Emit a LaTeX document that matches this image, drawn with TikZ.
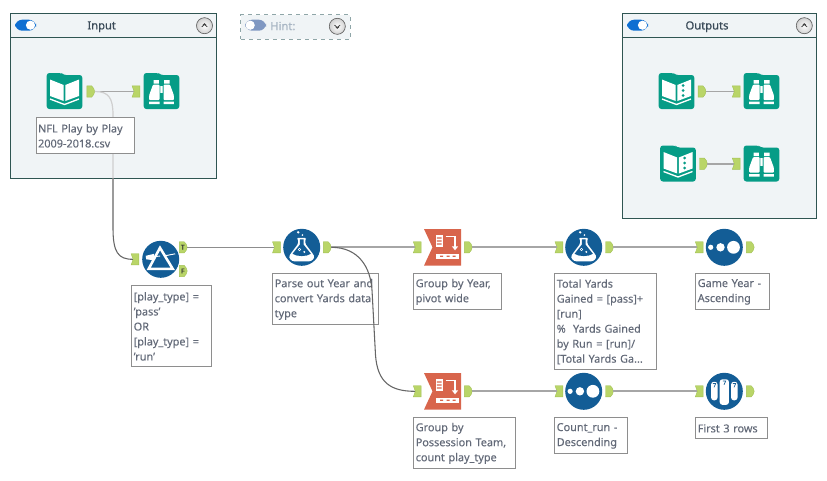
\documentclass[tikz,border=0pt]{standalone}
\usepackage{fontspec}
\setmainfont[FakeBold=0.15]{Noto Sans}
\newfontfamily\titlefont[FakeBold=0.7]{Noto Sans}
\definecolor{panelfill}{HTML}{F0F4F6}
\definecolor{paneledge}{HTML}{2F5552}
\definecolor{hintedge}{HTML}{8FA6A8}
\definecolor{toolteal}{HTML}{069C86}
\definecolor{toolblue}{HTML}{135D96}
\definecolor{toolred}{HTML}{D8654C}
\definecolor{portgreen}{HTML}{B9D568}
\definecolor{portedge}{HTML}{A3C255}
\definecolor{wirelight}{HTML}{A6A6A6}
\definecolor{wirefaint}{HTML}{CFCFCF}
\definecolor{wiredark}{HTML}{666666}
\definecolor{notetext}{HTML}{636A78}
\definecolor{noteedge}{HTML}{8E8E8E}
\definecolor{titletext}{HTML}{3A4A58}
\definecolor{hinttext}{HTML}{A9B6C4}
\definecolor{toggleon}{HTML}{0F6FD2}
\definecolor{toggleoff}{HTML}{8098C2}
\tikzset{
  x=0.75pt, y=-0.75pt,
  portbase/.style={inner sep=0pt, minimum width=5.7pt, minimum height=8.25pt},
  iconbase/.style={inner sep=0pt, minimum size=27pt},
  notebox/.style={draw=noteedge, line width=0.85pt, fill=white, anchor=north west, inner xsep=1.4pt, inner ysep=0pt, align=left, text=notetext,
    font=\fontsize{8.15pt}{11.25pt}\selectfont},
  wire/.style={draw=wirelight, line width=1.4pt},
  thinwire/.style={draw=wiredark, line width=0.8pt},
  paneltitle/.style={font=\fontsize{8.4pt}{10pt}\selectfont\titlefont, text=titletext, inner sep=0pt},
  portmark/.style={font=\fontsize{5pt}{5pt}\selectfont\titlefont, text=black!80, inner sep=0pt},
}
% connection points
\newcommand{\outport}[3]{%
  \node[portbase] (#1) at (#2,#3) {};
  \begin{scope}[shift={(#2,#3)}]
    \filldraw[fill=portgreen, draw=portedge, line width=0.3pt] (-3.9,-5.6) -- (1,-5.6) .. controls (2.4,-4.5) and (4,-1.8) .. (4,0) .. controls (4,1.8) and (2.4,4.5) .. (1,5.6) -- (-3.9,5.6) -- cycle;
  \end{scope}}
\newcommand{\inport}[3]{%
  \node[portbase] (#1) at (#2,#3) {};
  \begin{scope}[shift={(#2,#3)}]
    \filldraw[fill=portgreen, draw=portedge, line width=0.3pt] (-3.9,-5.6) -- (3.9,-5.6) -- (3.9,5.6) -- (-3.9,5.6) -- (-1.9,0) -- cycle;
  \end{scope}}
% teal folder-backed tile
\newcommand{\tealtile}{%
  \fill[toolteal, rounded corners=2pt] (-17.8,-18) -- (-3,-18) -- (-1,-16) -- (17.8,-16) -- (17.8,18) -- (-17.8,18) -- cycle;}
\newcommand{\bookpages}{%
  \fill[white] (-14.5,-11.5) -- (-0.8,-6) -- (-0.8,10) -- (-14.5,5) -- cycle;
  \fill[white] (14.5,-11.5) -- (0.8,-6) -- (0.8,10) -- (14.5,5) -- cycle;
  \draw[white, line width=1pt] (-14.5,8) -- (0,13.5) -- (14.5,8);}
\newcommand{\bookicon}[3]{%
  \node[iconbase] (#1) at (#2,#3) {};
  \begin{scope}[shift={(#2,#3)}]\tealtile\bookpages\end{scope}}
\newcommand{\dotbookicon}[3]{%
  \node[iconbase] (#1) at (#2,#3) {};
  \begin{scope}[shift={(#2,#3)}]\tealtile\bookpages
    \fill[toolteal] (6.5,-5.5) circle (1.5) (6.5,-0.5) circle (1.5) (6.5,4.5) circle (1.5);
  \end{scope}}
\newcommand{\binocularicon}[3]{%
  \node[iconbase] (#1) at (#2,#3) {};
  \begin{scope}[shift={(#2,#3)}]\tealtile
    \fill[white] (-8,-11) rectangle (-2.7,-7.5) (8,-11) rectangle (2.7,-7.5);
    \fill[white, rounded corners=0.6pt] (-8.5,-6.3) -- (-2,-6.3) -- (-2,9) -- (-12.3,9) -- (-12.3,4) -- cycle;
    \fill[white, rounded corners=0.6pt] (8.5,-6.3) -- (2,-6.3) -- (2,9) -- (12.3,9) -- (12.3,4) -- cycle;
    \fill[white] (-12.3,10.5) rectangle (-2,13.2) (12.3,10.5) rectangle (2,13.2);
    \fill[white!70!toolteal] (-1.6,-5.5) rectangle (1.6,2);
    \fill[white] (-0.6,-5.5) rectangle (0.6,2);
  \end{scope}}
\newcommand{\flaskicon}[3]{%
  \node[iconbase] (#1) at (#2,#3) {};
  \begin{scope}[shift={(#2,#3)}]
    \fill[toolblue] (0,0) circle (18.5);
    \fill[white, rounded corners=1pt] (-5,-9.5) -- (4.6,-9.5) -- (3.6,-8) -- (3.6,-3.5) -- (11.5,7) .. controls (13.5,11) and (10,14) .. (6,14) -- (-6,14) .. controls (-10,14) and (-13.5,11) .. (-11.5,7) -- (-3.6,-3.5) -- (-3.6,-8) -- cycle;
    \fill[toolblue] (-1.8,-8) -- (1.8,-8) -- (1.8,-2.8) -- (9.2,6.5) .. controls (5,9.5) and (-5,9.5) .. (-9.2,6.5) -- (-1.8,-2.8) -- cycle;
    \fill[white] (-3.5,-15) circle (1.3) (0.7,-12.3) circle (0.9);
    \fill[white] (-2.2,2.2) circle (1.7) (2.6,4.6) circle (1.1);
    \fill[toolblue] (-2.2,2.2) circle (0.7);
  \end{scope}}
\newcommand{\sorticon}[3]{%
  \node[iconbase] (#1) at (#2,#3) {};
  \begin{scope}[shift={(#2,#3)}]
    \fill[toolblue] (0,0) circle (18.5);
    \fill[white] (-13.6,0) circle (2.6) (-3.8,0) circle (4.2) (9.2,0) circle (6.4);
  \end{scope}}
\newcommand{\pivoticon}[3]{%
  \node[iconbase] (#1) at (#2,#3) {};
  \begin{scope}[shift={(#2,#3)}]
    \fill[toolred] (-18.5,-18.3) -- (18.5,-18.3) -- (18.5,18.3) -- (-18.5,18.3) -- (-10,0) -- cycle;
    \fill[white] (-7,-12.5) rectangle (0.3,-0.5);
    \fill[toolred] (-5.7,-10) rectangle (-1,-8.8) (-5.7,-7) rectangle (-1,-5.8) (-5.7,-4) rectangle (-1,-2.8);
    \draw[white, line width=1.2pt] (3,-10.8) -- (12.5,-10.8) -- (12.5,0);
    \fill[white] (9.3,-1) -- (15.7,-1) -- (12.5,3) -- cycle;
    \fill[white] (-7,6.2) rectangle (16,11.5);
    \fill[toolred] (-2.5,8.3) rectangle (0.5,9.5) (4,8.3) rectangle (7,9.5) (10,8.3) rectangle (13,9.5);
  \end{scope}}
\newcommand{\filtericon}[3]{%
  \node[iconbase] (#1) at (#2,#3) {};
  \begin{scope}[shift={(#2,#3)}]
    \fill[toolblue] (0,0) circle (18.5);
    \draw[white, line width=1.9pt, line join=miter] (-0.7,-11.5) -- (12,9.5) -- (-12,9.5) -- cycle;
    \fill[white] (-15,-3.5) -- (-6.5,-5.5) -- (-6.5,1) -- (-14.5,0) -- cycle;
    \draw[white, line width=0.7pt] (-6.5,-2.8) -- (-0.5,-3.2);
    \draw[white, line width=0.7pt] (4,-3.5) -- (14.5,-5.5);
  \end{scope}}
\newcommand{\tubeat}[5]{% left, right, top, bottom, mark offset
  \fill[white, rounded corners=2pt] (#1,#3) -- (#2,#3) -- (#2,#4) -- (#1,#4) -- cycle;
  \draw[toolblue, line width=0.5pt] (#5-1.5,#3+1.7) -- (#5+1.4,#3+1.7) -- (#5-0.3,#3+5.5);}
\newcommand{\sampleicon}[3]{%
  \node[iconbase] (#1) at (#2,#3) {};
  \begin{scope}[shift={(#2,#3)}]
    \fill[toolblue] (0,0) circle (18.5);
    \tubeat{-13.2}{-6.8}{-9.5}{9}{-10}
    \tubeat{-4.6}{4.6}{-12}{13.5}{0}
    \tubeat{6.8}{13.2}{-9.5}{9}{10}
  \end{scope}}
\newcommand{\togglebar}[4]{% left, top, fill colour, knob centre x
  \fill[#3, rounded corners=5.4pt] (#1,#2) rectangle ++(21,11);
  \fill[white] (#4,#2+5.5) circle (4.6);}
\newcommand{\chevrons}[3]{% button centre and direction (1 = up, -1 = down)
  \filldraw[draw=gray!85!black, line width=0.5pt, inner color=white, outer color=black!18] (#1,#2) circle (8);
  \draw[black!75, line width=0.6pt] (#1-2.8,#2+#3*1.2) -- (#1,#2-#3*1.2) -- (#1+2.8,#2+#3*1.2);
  \draw[black!75, line width=0.6pt] (#1-1.5,#2-#3*0.7) -- (#1,#2-#3*2) -- (#1+1.5,#2-#3*0.7);}
% annotation box: name, x1, y1, x2, y2, text
\newcommand{\note}[6]{%
  \pgfmathsetmacro{\notew}{(#4-#2)*0.75-2.8}%
  \pgfmathsetmacro{\noteh}{(#5-#3)*0.75}%
  \node[notebox, text width=\notew pt, minimum height=\noteh pt] (#1) at (#2,#3) {#6};}
\begin{document}
\begin{tikzpicture}
\useasboundingbox (0,0) rectangle (827,480);
\fill[white] (0,0) rectangle (827,480);

% containers
\node[draw=paneledge, fill=panelfill, line width=0.75pt, anchor=north west, inner sep=0pt, minimum width=154.5pt, minimum height=123.75pt] (inputpanel) at (10.3,13.3) {};
\draw[paneledge, line width=0.75pt] (10.3,37.3) -- (216.3,37.3);
\togglebar{15}{19.7}{toggleon}{30.5}
\node[paneltitle] (inputtitle) at (101.7,26.7) {Input};
\chevrons{204.5}{25.7}{1}

\node[draw=hintedge, fill=panelfill, dashed, line width=0.75pt, anchor=north west, inner sep=0pt, minimum width=82pt, minimum height=18.3pt] (hintpanel) at (240.3,14.3) {};
\togglebar{245}{19.7}{toggleoff}{250.2}
\node[paneltitle, text=hinttext, anchor=west] (hinttitle) at (270,26) {Hint:};
\chevrons{337.3}{26.3}{-1}

\node[draw=paneledge, fill=panelfill, line width=0.75pt, anchor=north west, inner sep=0pt, minimum width=145.5pt, minimum height=153.75pt] (outputpanel) at (622.3,13.3) {};
\draw[paneledge, line width=0.75pt] (622.3,37.3) -- (816.3,37.3);
\togglebar{627}{19.7}{toggleon}{642.5}
\node[paneltitle] (outputtitle) at (707,26.7) {Outputs};
\chevrons{804.3}{25.7}{1}

% tools
\bookicon{inbook}{64.5}{91}
\outport{inbookout}{90.7}{91.5}
\inport{inbrowsein}{136}{91.5}
\binocularicon{inbrowse}{161.5}{91}

\dotbookicon{outbooka}{676.5}{91}
\outport{outbookaout}{702}{91.5}
\inport{outbrowseain}{736.2}{91.5}
\binocularicon{outbrowsea}{761.5}{91}

\dotbookicon{outbookb}{678}{163.5}
\outport{outbookbout}{703.4}{163.7}
\inport{outbrowsebin}{736.2}{163.7}
\binocularicon{outbrowseb}{761.5}{163.5}

\inport{filterin}{135}{259.3}
\filtericon{filter}{160.7}{259.3}
\outport{filtertrue}{183.2}{247.3}
\outport{filterfalse}{183.2}{271}
\node[portmark] (tmark) at (182.8,247.3) {T};
\node[portmark] (fmark) at (182.8,271) {F};

\inport{parsein}{276.4}{247.3}
\flaskicon{parse}{301.7}{247.3}
\outport{parseout}{327.2}{247.3}

\inport{pivotain}{417.2}{247.3}
\pivoticon{pivota}{442.5}{247.3}
\outport{pivotaout}{468.2}{247.3}

\inport{totalin}{558.9}{247.3}
\flaskicon{total}{583.7}{247.3}
\outport{totalout}{609.4}{247.3}

\inport{sortain}{699.2}{247.3}
\sorticon{sorta}{724.3}{247.3}
\outport{sortaout}{750.2}{247.3}

\inport{pivotbin}{417.2}{391.3}
\pivoticon{pivotb}{442.5}{391.3}
\outport{pivotbout}{468.2}{391.3}

\inport{sortbin}{558.9}{391.3}
\sorticon{sortb}{583.7}{391.3}
\outport{sortbout}{609.4}{391.3}

\inport{samplein}{699.2}{391.3}
\sampleicon{sample}{724.3}{391.3}
\outport{sampleout}{750.2}{391.3}

% connectors
\tikzset{into/.style={shorten >=-1.4pt}}
\draw[wire, into] (inbookout.east) -- (inbrowsein.west);
\draw[wire, into] (outbookaout.east) -- (outbrowseain.west);
\draw[wire, into] (outbookbout.east) -- (outbrowsebin.west);
\coordinate (bendtop) at (113,115);
\coordinate (bendlow) at (113,228);
\begin{scope}
  \clip (10.3,37.3) rectangle (216.3,178.3);
  \draw[draw=wirefaint, line width=0.9pt] (inbookout.east) .. controls +(14,0) and +(0,-17) .. (bendtop) -- (bendlow);
\end{scope}
\begin{scope}
  \clip (0,178.3) rectangle (827,480);
  \draw[thinwire, into] (bendtop) -- (bendlow) .. controls +(0,24) and +(-13,0) .. (filterin.west);
\end{scope}
\draw[draw=wirelight!85!black, line width=1.05pt, into] (filtertrue.east) -- (parsein.west);
\draw[wire, into] (parseout.east) -- (pivotain.west);
\draw[wire, into] (pivotaout.east) -- (totalin.west);
\draw[wire, into] (totalout.east) -- (sortain.west);
\draw[wire, into] (pivotbout.east) -- (sortbin.west);
\draw[wire, into] (sortbout.east) -- (samplein.west);

% annotations
\note{inbooknote}{35.7}{117.3}{134}{153.3}{NFL Play by Play\\2009-2018.csv}
\note{filternote}{131.3}{285.3}{211.3}{366.3}{{[play\_type] =}\\{'pass'}\\OR\\{[play\_type] =}\\{'run'}}
\note{parsenote}{272.3}{273.3}{378.3}{324.3}{Parse out Year and\\convert Yards data\\type}
\note{pivotanote}{413.3}{273.3}{501.3}{309.3}{Group by Year,\\pivot wide}
\note{totalnote}{554.3}{273.3}{656}{369.3}{Total Yards\\Gained = [pass]+\\{[run]}\\\%~ Yards Gained\\by Run = [run]/\\{[Total Yards Ga...}}
\note{sortanote}{695.3}{273.3}{769.3}{309.3}{Game Year -\\Ascending}
\note{pivotbnote}{413.3}{417.3}{515.3}{468.3}{Group by\\Possession Team,\\count play\_type}
\note{sortbnote}{554.3}{417.3}{627.3}{453.3}{Count\_run -\\Descending}
\note{samplenote}{695.3}{417.3}{766.7}{438.3}{First 3 rows}

% second branch runs across the annotation edge
\coordinate (bendupper) at (372,290);
\coordinate (bendlower) at (375.5,355);
\draw[thinwire, into] (parseout.east) .. controls +(28,0) and +(-1.5,-22) .. (bendupper) -- (bendlower) .. controls +(2,28) and +(-22,0) .. (pivotbin.west);
\end{tikzpicture}
\end{document}
